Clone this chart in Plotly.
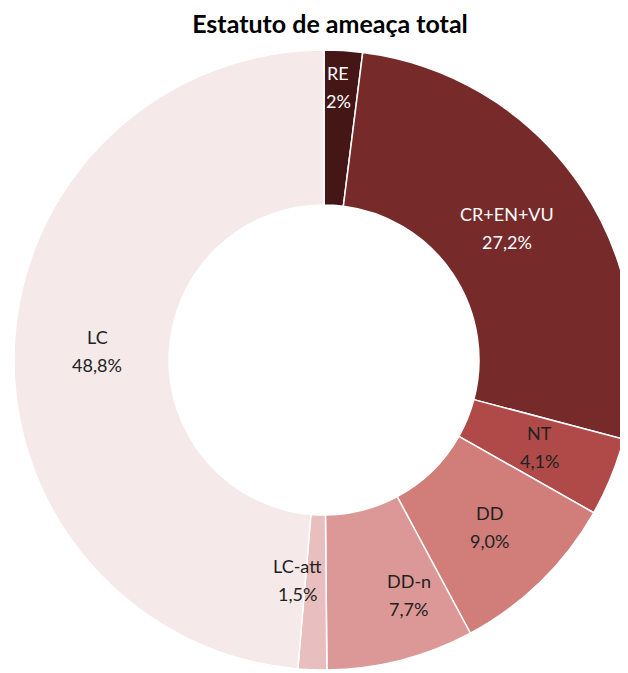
import math
import plotly.graph_objects as go

labels = ["RE", "CR+EN+VU", "NT", "DD", "DD-n", "LC-att", "LC"]
values = [2.0, 27.2, 4.1, 9.0, 7.7, 1.5, 48.8]
pct_labels = ["2%", "27,2%", "4,1%", "9,0%", "7,7%", "1,5%", "48,8%"]
colors = ["#451616", "#772a2a", "#b04a48", "#d17d7a", "#db9896", "#e8bfbe", "#f5e9ea"]
text_colors = ["white", "white", "#222222", "#222222", "#222222", "#222222", "#222222"]

FONT = "Lato, Open Sans, sans-serif"
W, H = 628, 673
# pie geometry in figure pixels
CX, CY, R = 316, 352, 310
HOLE = 0.5
LINE_GAP = 28

# label placement along each slice bisector: radius and small pixel nudges
place = {
    "RE": dict(r=274, dx=-3, dy=0),
    "CR+EN+VU": dict(r=226, dx=-4, dy=-6),
    "NT": dict(r=233, dx=0, dy=-1),
    "DD": dict(r=235, dx=1, dy=-1),
    "DD-n": dict(r=245, dx=24, dy=-2),
    "LC-att": dict(r=220, dx=-18, dy=0),
    "LC": dict(r=227, dx=0, dy=1),
}

fig = go.Figure(go.Pie(
    labels=labels,
    values=values,
    textinfo="none",
    hole=HOLE,
    sort=False,
    direction="clockwise",
    rotation=0,
    marker=dict(colors=colors, line=dict(color="white", width=1.5)),
    domain=dict(x=[(CX - R) / W, (CX + R) / W], y=[(H - CY - R) / H, (H - CY + R) / H]),
    showlegend=False,
    hoverinfo="label+percent",
))

total = sum(values)
cum = 0.0
for lab, val, pct, col in zip(labels, values, pct_labels, text_colors):
    mid = (cum + val / 2) / total * 2 * math.pi
    cum += val
    cfg = place[lab]
    px = CX + cfg["r"] * math.sin(mid) + cfg["dx"]
    py = CY - cfg["r"] * math.cos(mid) + cfg["dy"]
    for txt, off in ((lab, -LINE_GAP / 2), (pct, LINE_GAP / 2)):
        fig.add_annotation(x=px / W, y=1 - (py + off) / H, xref="paper", yref="paper",
                           text=txt, showarrow=False, xanchor="center", yanchor="middle",
                           font=dict(family=FONT, size=18, color=col))

fig.update_layout(
    width=W, height=H,
    margin=dict(l=0, r=0, t=0, b=0),
    paper_bgcolor="white",
    title=dict(text="<b>Estatuto de ameaça total</b>", x=322 / W, xanchor="center",
               y=1 - 16 / H, yanchor="middle",
               font=dict(family=FONT, size=25, color="black")),
)

fig.write_html("out.html")
